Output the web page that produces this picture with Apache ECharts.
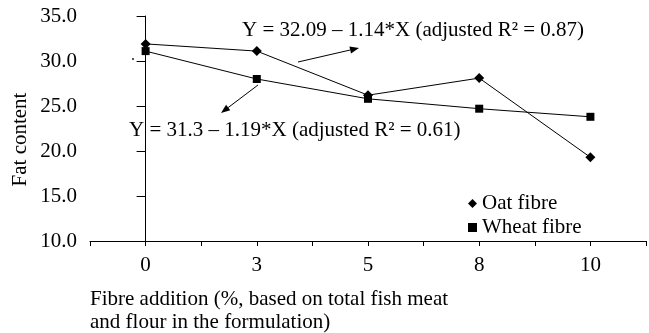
<!DOCTYPE html>
<html><head><meta charset="utf-8">
<script src="https://cdn.jsdelivr.net/npm/echarts@6/dist/echarts.min.js"></script>
<style>html,body{margin:0;padding:0;background:#fff}#c{width:649px;height:333px}</style>
</head><body><div id="c"></div>
<script>
const categories = ['0', '3', '5', '8', '10'];
const oatFibre = [31.9, 31.1, 26.2, 28.1, 19.3];
const wheatFibre = [31.1, 28.0, 25.8, 24.7, 23.8];
const yTicks = [10, 15, 20, 25, 30, 35];
const seriesNames = ['Oat fibre', 'Wheat fibre'];
const eq1 = 'Y = 32.09 – 1.14*X (adjusted R² = 0.87)';
const eq2 = 'Y = 31.3 – 1.19*X (adjusted R² = 0.61)';
const xTitle = 'Fibre addition (%, based on total fish meat\nand flour in the formulation)';
const yTitle = 'Fat content';

const FONT = 'Liberation Serif';
const FS = 21;
const chart = echarts.init(document.getElementById('c'));

function arrow(x1, y1, x2, y2) {
  const dx = x2 - x1, dy = y2 - y1, L = Math.hypot(dx, dy);
  const ux = dx / L, uy = dy / L, px = -uy, py = ux;
  const hl = 9, hw = 3.5;
  const bx = x2 - ux * hl, by = y2 - uy * hl;
  return [
    {type: 'line', shape: {x1, y1, x2: bx, y2: by}, style: {stroke: '#000', lineWidth: 1}},
    {type: 'polygon', shape: {points: [[x2, y2], [bx + px * hw, by + py * hw], [bx - px * hw, by - py * hw]]}, style: {fill: '#000'}}
  ];
}

const toPts = arr => arr.map((v, i) => [i, v]);
const font = FS + 'px "Liberation Serif"';

chart.setOption({
  animation: false,
  textStyle: {fontFamily: FONT, color: '#000'},
  grid: {left: 90, right: 0, top: 16, bottom: 92},
  xAxis: {
    type: 'value', min: -0.5, max: 4.5, interval: 0.5,
    splitLine: {show: false},
    axisLine: {lineStyle: {color: '#000', width: 1}},
    axisTick: {length: 5, lineStyle: {color: '#000'}},
    axisLabel: {
      color: '#000', fontFamily: FONT, fontSize: FS, margin: 14,
      formatter: v => (Number.isInteger(v) && v >= 0 && v < categories.length) ? categories[v] : ''
    }
  },
  yAxis: {
    type: 'value', min: yTicks[0], max: yTicks[yTicks.length - 1], interval: 5,
    splitLine: {show: false},
    axisLine: {show: true, lineStyle: {color: '#000', width: 1}},
    axisTick: {show: true, length: 9, lineStyle: {color: '#000'}},
    axisLabel: {color: '#000', fontFamily: FONT, fontSize: FS, margin: 13, formatter: v => v.toFixed(1)}
  },
  legend: {
    orient: 'vertical', left: 463, top: 188, itemGap: 3,
    itemWidth: 9, itemHeight: 9,
    textStyle: {fontFamily: FONT, fontSize: FS, color: '#000'},
    data: [{name: seriesNames[0], icon: 'diamond'}, {name: seriesNames[1], icon: 'rect'}]
  },
  series: [
    {name: seriesNames[0], type: 'line', data: toPts(oatFibre), symbol: 'diamond', symbolSize: 10,
     itemStyle: {color: '#000'}, lineStyle: {color: '#000', width: 1}},
    {name: seriesNames[1], type: 'line', data: toPts(wheatFibre), symbol: 'rect', symbolSize: 8,
     itemStyle: {color: '#000'}, lineStyle: {color: '#000', width: 1}}
  ],
  graphic: [
    {type: 'text', left: 242, top: 20, style: {text: eq1, font, fill: '#000'}},
    {type: 'text', left: 129, top: 120, style: {text: eq2, font, fill: '#000'}},
    {type: 'text', left: 90, top: 288, style: {text: xTitle, font, fill: '#000', lineHeight: 23}},
    {type: 'text', x: 20, y: 139.5, rotation: Math.PI / 2,
     style: {text: yTitle, font, fill: '#000', align: 'center', verticalAlign: 'middle'}},
    {type: 'circle', shape: {cx: 133, cy: 59, r: 0.9}, style: {fill: '#000'}},
    ...arrow(298, 62, 359, 48),
    ...arrow(258, 85, 221, 113)
  ]
});
</script></body></html>
